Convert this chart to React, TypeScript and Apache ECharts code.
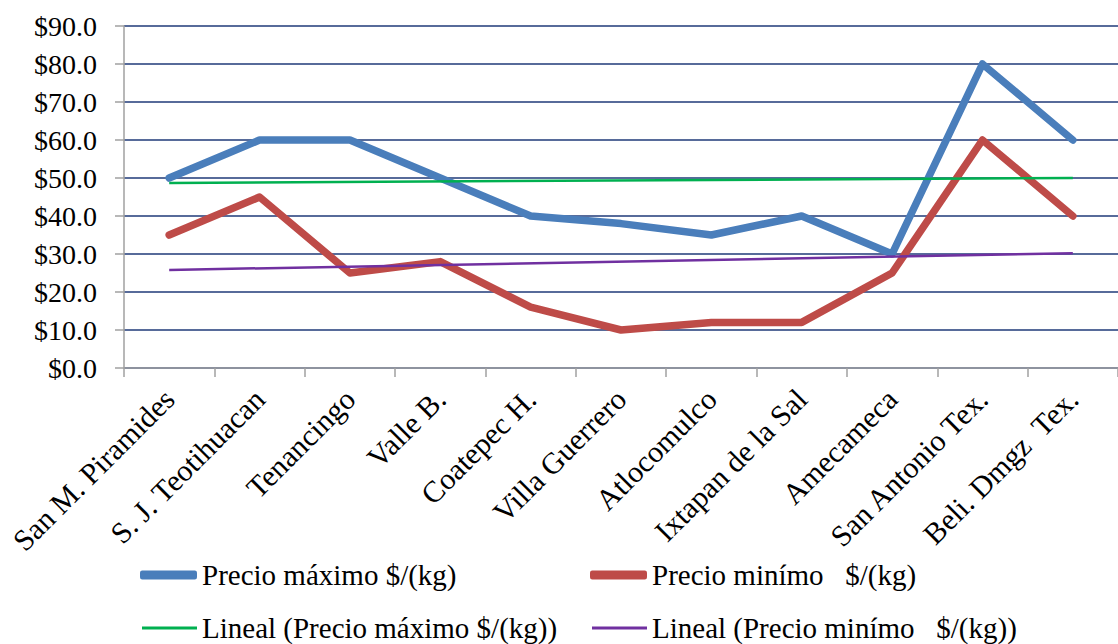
import React, { useEffect, useRef } from "react";
import * as echarts from "echarts";

const categories = [
  "San M. Piramides",
  "S. J. Teotihuacan",
  "Tenancingo",
  "Valle B.",
  "Coatepec H.",
  "Villa Guerrero",
  "Atlocomulco",
  "Ixtapan de la Sal",
  "Amecameca",
  "San Antonio Tex.",
  "Beli. Dmgz  Tex.",
];

const precioMaximo = [50, 60, 60, 50, 40, 38, 35, 40, 30, 80, 60];
const precioMinimo = [35, 45, 25, 28, 16, 10, 12, 12, 25, 60, 40];

// trend lines: value at first and last category
const linealMaximo = [48.7, null, null, null, null, null, null, null, null, null, 50.0];
const linealMinimo = [25.8, null, null, null, null, null, null, null, null, null, 30.2];

const yTicks = { min: 0, max: 90, interval: 10 };

const nameMax = "Precio máximo $/(kg)";
const nameMin = "Precio minímo   $/(kg)";
const nameLinMax = "Lineal (Precio máximo $/(kg))";
const nameLinMin = "Lineal (Precio minímo   $/(kg))";

const FONT = "'Liberation Serif', 'Times New Roman', serif";

export default function App() {
  const ref = useRef<HTMLDivElement>(null);
  useEffect(() => {
    if (!ref.current) return;
    const chart = echarts.init(ref.current, null, { renderer: "svg" });
    const legendText = { fontFamily: FONT, fontSize: 29, color: "#000", lineHeight: 30 };
    chart.setOption({
      animation: false,
      backgroundColor: "#fff",
      grid: { left: 124, right: -9, top: 26, bottom: 276, containLabel: false },
      xAxis: {
        type: "category",
        data: categories,
        boundaryGap: true,
        axisLine: { lineStyle: { color: "#a0a0a0", width: 1.5 } },
        axisTick: { show: true, length: 9, lineStyle: { color: "#a0a0a0", width: 1.5 } },
        axisLabel: {
          rotate: 45,
          interval: 0,
          margin: 26,
          fontFamily: FONT,
          fontSize: 30,
          color: "#000",
        },
        splitLine: { show: false },
      },
      yAxis: {
        type: "value",
        min: yTicks.min,
        max: yTicks.max,
        interval: yTicks.interval,
        axisLine: { show: true, lineStyle: { color: "#a0a0a0", width: 1.5 } },
        axisTick: { show: true, length: 9, lineStyle: { color: "#a0a0a0", width: 1.5 } },
        axisLabel: {
          margin: 27,
          fontFamily: FONT,
          fontSize: 28,
          color: "#000",
          formatter: (v: number) => "$" + v.toFixed(1),
        },
        splitLine: { show: true, lineStyle: { color: "#1f3a78", width: 1.5 } },
      },
      legend: [
        {
          data: [{ name: nameMax, icon: "roundRect" }],
          left: 140, top: 560, padding: 0, itemWidth: 57, itemHeight: 9,
          textStyle: legendText,
        },
        {
          data: [{ name: nameMin, icon: "roundRect" }],
          left: 590, top: 560, padding: 0, itemWidth: 57, itemHeight: 9,
          textStyle: legendText,
        },
        {
          data: [{ name: nameLinMax, icon: "rect" }],
          left: 142, top: 613, padding: 0, itemWidth: 55, itemHeight: 3,
          textStyle: legendText,
        },
        {
          data: [{ name: nameLinMin, icon: "rect" }],
          left: 592, top: 613, padding: 0, itemWidth: 55, itemHeight: 3,
          textStyle: legendText,
        },
      ],
      series: [
        {
          name: nameMax,
          type: "line",
          data: precioMaximo,
          symbol: "none",
          color: "#4a7ebb",
          lineStyle: { width: 7.5, color: "#4a7ebb", cap: "round", join: "round" },
        },
        {
          name: nameMin,
          type: "line",
          data: precioMinimo,
          symbol: "none",
          color: "#be4b48",
          lineStyle: { width: 7.5, color: "#be4b48", cap: "round", join: "round" },
        },
        {
          name: nameLinMax,
          type: "line",
          data: linealMaximo,
          connectNulls: true,
          symbol: "none",
          color: "#00b050",
          lineStyle: { width: 2.5, color: "#00b050" },
        },
        {
          name: nameLinMin,
          type: "line",
          data: linealMinimo,
          connectNulls: true,
          symbol: "none",
          color: "#7030a0",
          lineStyle: { width: 2.5, color: "#7030a0" },
        },
      ],
    });
    return () => chart.dispose();
  }, []);
  return (
    <div
      ref={ref}
      style={{ position: "absolute", left: 0, top: 0, width: 1118, height: 644, overflow: "hidden" }}
    />
  );
}
